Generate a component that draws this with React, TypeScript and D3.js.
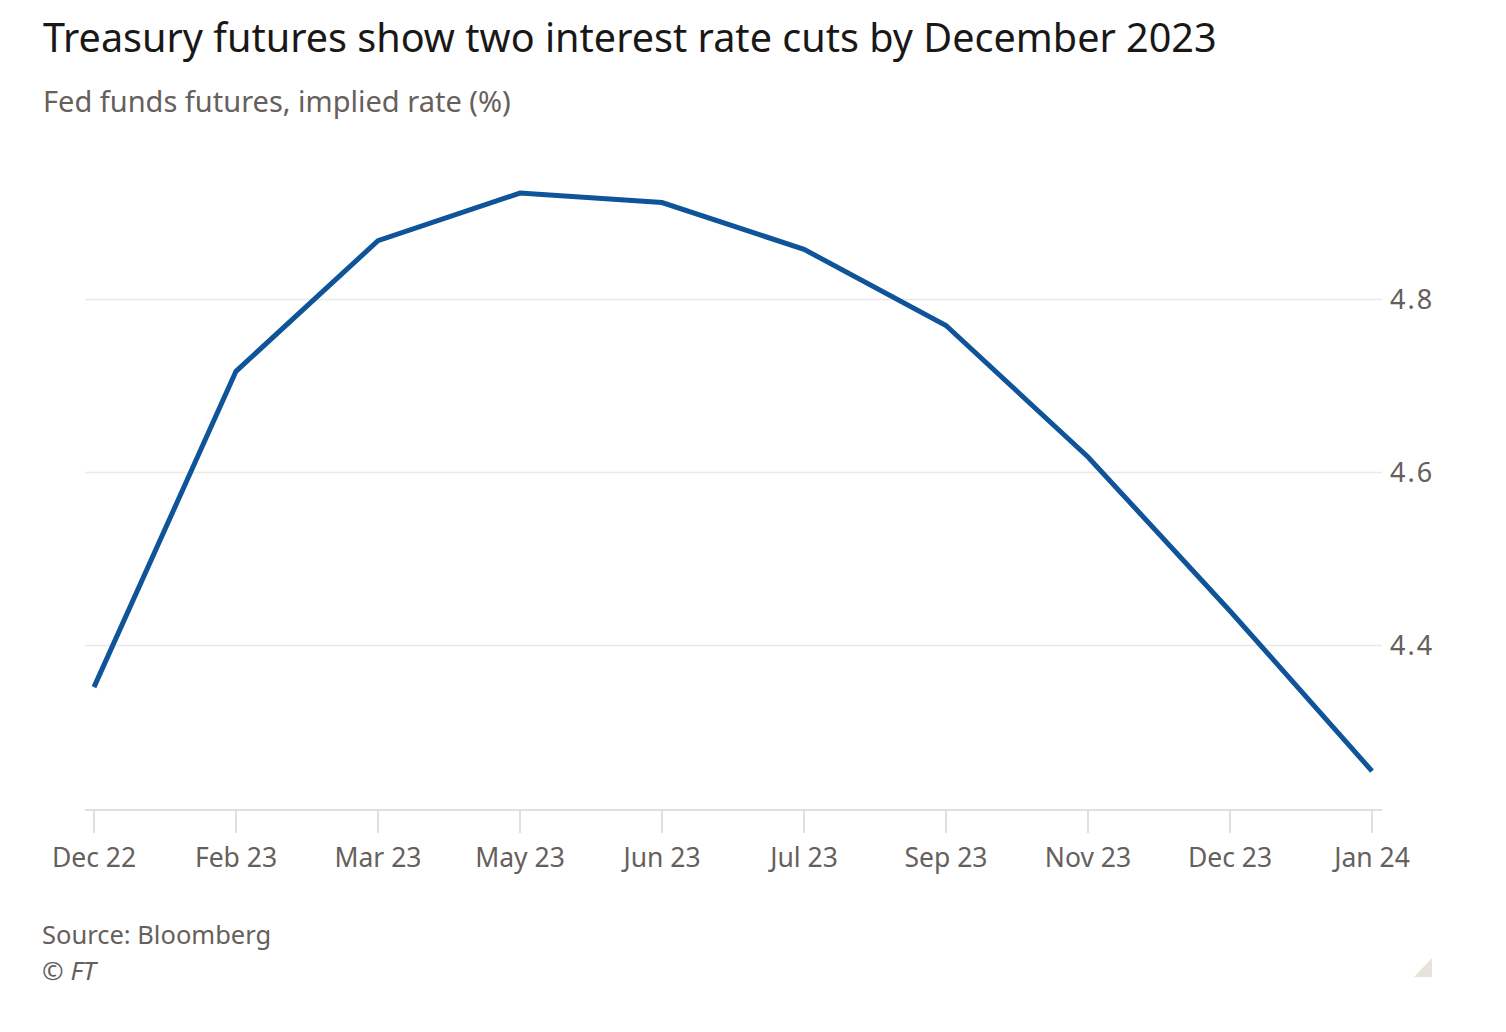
import React from "react";
import * as d3 from "d3";

const categories = ["Dec 22", "Feb 23", "Mar 23", "May 23", "Jun 23", "Jul 23", "Sep 23", "Nov 23", "Dec 23", "Jan 24"];
const rates = [4.352, 4.717, 4.868, 4.923, 4.912, 4.858, 4.770, 4.618, 4.440, 4.255];
const yTicks = [4.4, 4.6, 4.8];

const W = 1506;
const H = 1032;
const FONT = "'Noto Sans', 'Open Sans', sans-serif";

export default function App() {
  const x = d3.scalePoint<string>().domain(categories).range([94, 1372]);
  const y = d3.scaleLinear().domain([4.21, 4.8]).range([810, 299.5]);
  const line = d3
    .line<number>()
    .x((_, i) => x(categories[i]) as number)
    .y((d) => y(d));

  const gridX0 = 85;
  const gridX1 = 1382;

  return (
    <svg width={W} height={H} style={{ position: "absolute", left: 0, top: 0, background: "#fff" }}>
      <rect width={W} height={H} fill="#fff" />
      <text x={43} y={52} fontFamily={FONT} fontSize={39.6} fill="#1a1817">
        Treasury futures show two interest rate cuts by December 2023
      </text>
      <text x={43} y={112} fontFamily={FONT} fontSize={29} fill="#66605c">
        Fed funds futures, implied rate (%)
      </text>

      {yTicks.map((t) => (
        <g key={t}>
          <line x1={gridX0} x2={gridX1} y1={y(t)} y2={y(t)} stroke="#ebe9e7" strokeWidth={1.5} />
          <text x={1390} y={y(t) + 9} fontFamily={FONT} fontSize={27} letterSpacing={2} fill="#66605c">
            {d3.format(".1f")(t)}
          </text>
        </g>
      ))}

      <line x1={gridX0} x2={gridX1} y1={y(4.21)} y2={y(4.21)} stroke="#e2dfdc" strokeWidth={2} />
      {categories.map((c) => (
        <g key={c}>
          <line x1={x(c)} x2={x(c)} y1={y(4.21)} y2={y(4.21) + 23} stroke="#e2dfdc" strokeWidth={2} />
          <text x={x(c)} y={867} textAnchor="middle" fontFamily={FONT} fontSize={26.5} fill="#66605c">
            {c}
          </text>
        </g>
      ))}

      <path d={line(rates) ?? ""} fill="none" stroke="#0f5499" strokeWidth={5} strokeLinejoin="miter" />

      <text x={42} y={944} fontFamily={FONT} fontSize={25.5} fill="#66605c">
        Source: Bloomberg
      </text>
      <text x={42} y={980} fontFamily={FONT} fontSize={26} fontStyle="italic" fill="#66605c">
        © FT
      </text>
      <path d="M1414,977 L1432,958 L1432,977 Z" fill="#e9e2da" />
    </svg>
  );
}
